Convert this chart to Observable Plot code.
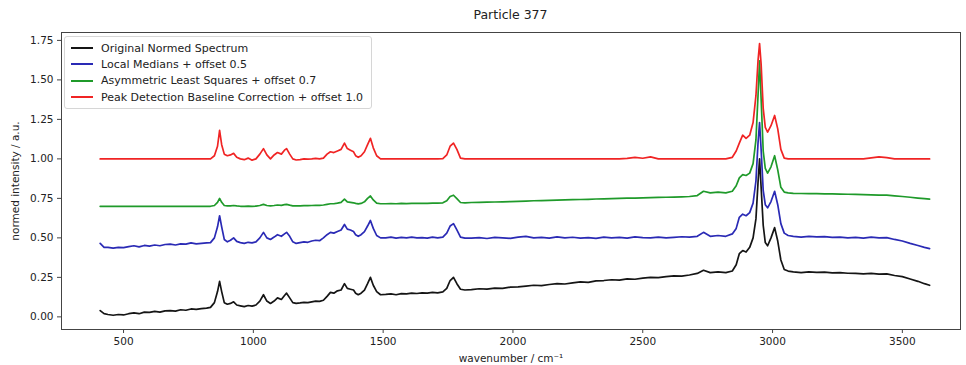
<!DOCTYPE html>
<html>
<head>
<meta charset="utf-8">
<script src="https://cdn.jsdelivr.net/npm/d3@7"></script>
<script src="https://cdn.jsdelivr.net/npm/@observablehq/plot@0.6"></script>
<style>
  html, body { margin: 0; padding: 0; background: #fff; }
  #wrap { position: relative; width: 966px; height: 365px; font-family: "DejaVu Sans", sans-serif; }
  #title { position: absolute; left: 61px; width: 899px; top: 7px; text-align: center; font-size: 12.5px; color: #222; }
  #chart { position: absolute; left: 0; top: 28px; }
  #legend { position: absolute; left: 64px; top: 36px; padding: 3px 8px 3px 6px; border: 1px solid #d6d6d6; border-radius: 3px; background: rgba(255,255,255,0.85); font-size: 11px; color: #222; }
  .row { display: flex; align-items: center; height: 16.3px; }
  .sw { width: 22px; height: 0; border-top: 2px solid; margin-right: 8px; }
</style>
</head>
<body>
<div id="wrap">
  <div id="title">Particle 377</div>
  <div id="chart"></div>
  <div id="legend"></div>
</div>
<script>
const seriesNames = [
  "Original Normed Spectrum",
  "Local Medians + offset 0.5",
  "Asymmetric Least Squares + offset 0.7",
  "Peak Detection Baseline Correction + offset 1.0"
];
const seriesColors = ["#151515", "#2a2ab5", "#1f9a2a", "#f02424"];

const xTicks = [500, 1000, 1500, 2000, 2500, 3000, 3500];
const yTicks = [0, 0.25, 0.5, 0.75, 1.0, 1.25, 1.5, 1.75];

const wavenumber = [
  410,425,440,460,480,500,520,540,560,580,600,620,640,660,680,700,720,740,760,780,800,820,
  835,850,862,870,878,888,900,912,924,936,950,965,980,995,1010,1025,1039,1052,1066,1080,1093,1108,1120,1128,1140,1152,1165,1180,1195,1210,1225,1240,1255,1270,1284,1297,1310,1324,1338,1351,1362,1374,1386,1394,1404,1415,1428,1440,1451,1462,1475,1490,
  1510,1530,1550,1570,1590,1610,1630,1650,1670,1690,1710,1730,1745,1758,1771,1784,1798,1815,
  1840,1870,1900,1930,1960,1990,2020,2050,2080,2110,2140,2170,2200,2230,2260,2290,2320,2350,2380,2410,2440,2470,2500,2530,2560,2590,2620,2650,2680,2710,
  2734,2760,2790,2820,2845,2860,2872,2885,2898,2912,2925,2936,2944,2950,2956,2964,2972,2981,2994,3008,3020,3032,3045,3060,
  3080,3110,3140,3170,3200,3230,3260,3290,3320,3350,3380,3410,3440,3470,3500,3530,3560,3585,3605
];

const original = [
  0.04,0.02,0.015,0.01,0.015,0.012,0.02,0.025,0.02,0.03,0.028,0.035,0.03,0.038,0.04,0.036,0.045,0.042,0.05,0.047,0.052,0.055,
  0.06,0.09,0.16,0.225,0.16,0.09,0.08,0.085,0.095,0.075,0.07,0.065,0.072,0.068,0.075,0.1,0.14,0.1,0.085,0.1,0.12,0.11,0.135,0.15,0.12,0.09,0.085,0.088,0.092,0.09,0.095,0.1,0.098,0.105,0.13,0.155,0.15,0.165,0.17,0.21,0.18,0.175,0.17,0.15,0.14,0.15,0.17,0.21,0.25,0.2,0.16,0.14,
  0.142,0.145,0.14,0.147,0.145,0.15,0.148,0.152,0.15,0.155,0.152,0.158,0.18,0.23,0.25,0.21,0.175,0.17,
  0.172,0.178,0.175,0.182,0.18,0.188,0.19,0.195,0.2,0.198,0.205,0.21,0.208,0.215,0.222,0.218,0.228,0.23,0.235,0.232,0.24,0.238,0.245,0.25,0.248,0.255,0.26,0.258,0.265,0.275,
  0.295,0.28,0.285,0.28,0.29,0.33,0.40,0.42,0.41,0.44,0.50,0.62,0.85,1.0,0.82,0.58,0.47,0.45,0.5,0.565,0.48,0.36,0.30,0.29,
  0.285,0.28,0.285,0.282,0.283,0.278,0.28,0.276,0.275,0.272,0.275,0.27,0.272,0.262,0.255,0.24,0.225,0.21,0.20
];

const localMedians = [
  0.465,0.44,0.44,0.435,0.44,0.438,0.445,0.45,0.443,0.452,0.448,0.455,0.45,0.458,0.46,0.455,0.462,0.46,0.468,0.462,0.465,0.468,
  0.47,0.5,0.57,0.64,0.57,0.49,0.475,0.485,0.5,0.478,0.47,0.465,0.472,0.468,0.475,0.5,0.535,0.5,0.49,0.505,0.52,0.51,0.525,0.535,0.51,0.475,0.465,0.47,0.475,0.472,0.48,0.485,0.482,0.5,0.52,0.535,0.53,0.54,0.55,0.585,0.555,0.55,0.54,0.52,0.51,0.52,0.54,0.575,0.61,0.56,0.515,0.5,
  0.50,0.505,0.498,0.503,0.50,0.505,0.50,0.502,0.498,0.505,0.5,0.505,0.53,0.575,0.59,0.55,0.505,0.498,
  0.498,0.502,0.496,0.503,0.5,0.497,0.505,0.51,0.5,0.503,0.498,0.506,0.5,0.504,0.498,0.502,0.497,0.505,0.5,0.503,0.498,0.506,0.502,0.5,0.505,0.5,0.503,0.507,0.505,0.51,
  0.535,0.51,0.515,0.51,0.525,0.56,0.63,0.65,0.64,0.66,0.72,0.86,1.10,1.23,1.06,0.80,0.71,0.69,0.73,0.795,0.71,0.59,0.53,0.515,
  0.51,0.505,0.51,0.506,0.508,0.503,0.505,0.5,0.503,0.498,0.505,0.5,0.502,0.49,0.48,0.465,0.452,0.44,0.432
];

const asymLeastSquares = [
  0.70,0.70,0.70,0.70,0.70,0.70,0.70,0.70,0.70,0.70,0.70,0.70,0.70,0.70,0.70,0.70,0.70,0.70,0.70,0.70,0.70,0.70,
  0.70,0.705,0.725,0.75,0.725,0.705,0.702,0.703,0.705,0.702,0.70,0.70,0.701,0.70,0.701,0.705,0.712,0.705,0.703,0.705,0.708,0.706,0.71,0.712,0.707,0.703,0.702,0.703,0.704,0.704,0.705,0.706,0.706,0.708,0.712,0.716,0.716,0.72,0.725,0.745,0.728,0.725,0.722,0.718,0.715,0.718,0.728,0.75,0.765,0.74,0.72,0.716,
  0.716,0.717,0.716,0.718,0.717,0.718,0.718,0.719,0.718,0.72,0.72,0.722,0.735,0.762,0.77,0.748,0.724,0.722,
  0.724,0.725,0.726,0.727,0.728,0.73,0.731,0.733,0.735,0.736,0.737,0.739,0.74,0.742,0.743,0.744,0.746,0.747,0.748,0.75,0.751,0.752,0.753,0.755,0.756,0.757,0.758,0.76,0.762,0.768,
  0.795,0.785,0.79,0.785,0.795,0.83,0.88,0.90,0.895,0.91,0.97,1.12,1.40,1.62,1.38,1.05,0.94,0.91,0.95,1.02,0.93,0.82,0.79,0.785,
  0.782,0.781,0.78,0.78,0.779,0.778,0.777,0.776,0.775,0.774,0.772,0.771,0.77,0.766,0.762,0.757,0.752,0.748,0.745
];

const peakDetection = [
  1.0,1.0,1.0,1.0,1.0,1.0,1.0,1.0,1.0,1.0,1.0,1.0,1.0,1.0,1.0,1.0,1.0,1.0,1.0,1.0,1.0,1.0,
  1.0,1.02,1.08,1.18,1.09,1.03,1.02,1.025,1.035,1.01,1.0,0.995,1.005,0.992,1.0,1.03,1.065,1.025,1.0,1.025,1.04,1.03,1.055,1.065,1.03,1.0,0.993,0.995,1.0,0.998,1.0,1.003,1.0,1.005,1.03,1.045,1.04,1.05,1.06,1.10,1.065,1.055,1.045,1.02,1.01,1.02,1.045,1.09,1.13,1.07,1.02,1.0,
  1.0,1.0,1.0,1.0,1.0,1.0,1.0,1.0,1.0,1.0,1.0,1.002,1.025,1.08,1.10,1.06,1.005,1.0,
  1.0,1.0,1.0,1.0,1.0,1.0,1.0,1.0,1.0,1.0,1.0,1.0,1.0,1.0,1.0,1.0,1.0,1.0,1.0,1.0,1.003,1.01,1.004,1.013,1.0,1.0,1.0,1.0,1.0,1.0,
  1.0,1.0,1.0,1.0,1.01,1.05,1.10,1.15,1.13,1.15,1.23,1.40,1.62,1.73,1.60,1.32,1.20,1.17,1.21,1.275,1.19,1.06,1.005,1.0,
  1.0,1.0,1.0,1.0,1.0,1.0,1.0,1.0,1.0,1.0,1.006,1.013,1.008,1.0,1.0,1.0,1.0,1.0,1.0
];

const seriesValues = [original, localMedians, asymLeastSquares, peakDetection];
const rows = [];
seriesValues.forEach((vals, i) => {
  if (vals.length !== wavenumber.length) console.warn("length mismatch", i, vals.length, wavenumber.length);
  vals.forEach((v, j) => rows.push({wn: wavenumber[j], v, s: seriesNames[i]}));
});

const chart = Plot.plot({
  width: 966,
  height: 337,
  marginLeft: 61,
  marginRight: 6,
  marginTop: 4,
  marginBottom: 36,
  style: {fontFamily: "DejaVu Sans, sans-serif", fontSize: "10.5px", color: "#222", background: "#fff"},
  x: {domain: [261, 3724]},
  y: {domain: [-0.08, 1.80]},
  color: {domain: seriesNames, range: seriesColors},
  marks: [
    Plot.line(rows, {x: "wn", y: "v", z: "s", stroke: "s", strokeWidth: 1.7, strokeLinejoin: "round"}),
    Plot.frame({stroke: "#444", strokeWidth: 1}),
    Plot.axisX({ticks: xTicks, tickSize: 4, tickPadding: 4, tickFormat: d => String(d), stroke: "#444",
      label: "wavenumber / cm⁻¹", labelAnchor: "center", labelArrow: "none", labelOffset: 32}),
    Plot.axisY({ticks: yTicks, tickSize: 4, tickPadding: 4, tickFormat: d3.format(".2f"), stroke: "#444",
      label: "normed intensity / a.u.", labelAnchor: "center", labelArrow: "none", labelOffset: 50})
  ]
});
document.getElementById("chart").appendChild(chart);

const lg = document.getElementById("legend");
seriesNames.forEach((n, i) => {
  const r = document.createElement("div");
  r.className = "row";
  r.innerHTML = `<span class="sw" style="border-color:${seriesColors[i]}"></span><span>${n}</span>`;
  lg.appendChild(r);
});
</script>
</body>
</html>
